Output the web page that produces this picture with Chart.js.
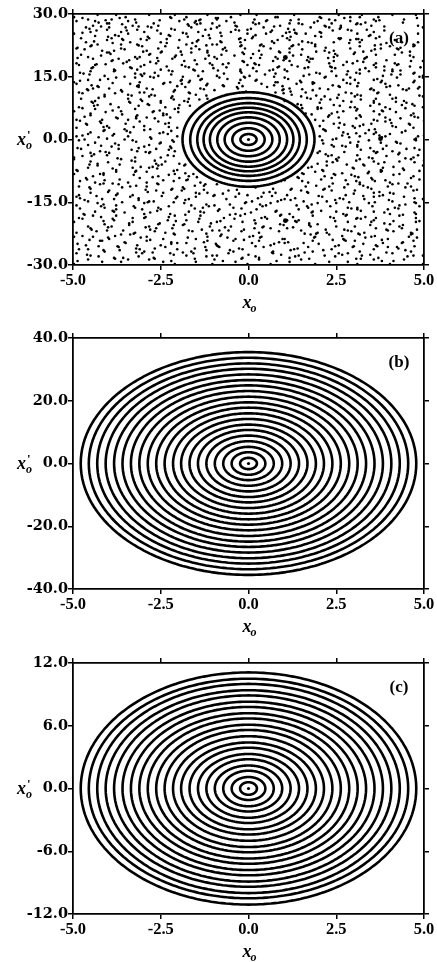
<!DOCTYPE html>
<html>
<head>
<meta charset="utf-8">
<script src="https://cdn.jsdelivr.net/npm/chart.js@4.4.1/dist/chart.umd.min.js"></script>
<style>
  html, body { margin: 0; padding: 0; background: #fff; overflow: hidden; }
  canvas { position: absolute; left: 0; }
</style>
</head>
<body>
<canvas id="panelA" width="437" height="320" style="top:0px"></canvas>
<canvas id="panelB" width="437" height="320" style="top:324px"></canvas>
<canvas id="panelC" width="437" height="320" style="top:649px"></canvas>
<script>
// x axis shared by all three panels
const xTicks = [-5.0, -2.5, 0.0, 2.5, 5.0];

// panel (a): y range and the invariant rings around the centre (semi-axes)
const yTicksA = [-30.0, -15.0, 0.0, 15.0, 30.0];
const ringsAx = [0.23, 0.46, 0.68, 0.89, 1.10, 1.28, 1.46, 1.66, 1.88];
const ringsAy = [1.3, 2.7, 4.0, 5.3, 6.5, 7.6, 8.7, 9.9, 11.3];
// larger island dots
const islandsX = [1.05, 3.76, 1.05];
const islandsY = [19.6, 0.2, -19.4];

// chaotic sea of panel (a), read off the picture on two staggered grids
// (cells 0.2 wide and 1.5 tall, rows running from the top down);
// '.' = empty cell, digit = one dot, its place in the cell as on a keypad
const chaosRows = [
  "4.72.8159. 3..6294.71 8.53.91.64 .27..483.5 6195.2.73.",
  "2.9164.38. .57..18246 93.7..52.8 6.4.396.72 5.81.....7",
  ".38.6192.4 71..5.396. 2.846..17. 95.3.72.14 .69......3",
  "17.4.853.. 9.26..1.58 .4.938.2.6 83.15..97. 2.47.....1",
  ".6.83.9147 2.5..173.9 84.62.9..1 3.758..4.2 61.9.36.84",
  "5.2.796..3 8.41..62.7 .9.35.814. 61..29.7.5 3.86.14.2.",
  ".47.31..98 6.2.853..1 74..1.6.92 3.58..27.. 19.4.63.8.",
  "8.3..527.1 .94.16..38 2.7.49..51 6..31.84.9 52.7.9..46",
  "3.61.9..47 1.8..257.3 .6.93.2.84 71.5..6.2. 9.34.81..5",
  ".52.83..69 4.7.1..92. 85.3.71.6. 2.9..438.1 6.1.72..59",
  "7.46..1.38 .2.9.58.4. 3..62.4.97 1.8.73..52 4.69..1.83",
  "2.95.7..14 8.3.62..71 .5.84.3..6 93..17.6.2 5.8.24.9.7",
  "6.1.8.39.5 47..2.58.. 19......63 .7.41..96. 8.35.7.2..",
  ".4.72..6.9 3.8.195..4 .......... 7.26.3..8. 1.94.5.7.3",
  "9.35..8.1. 6.27.4.... .......... ..5.91.4.8 7.3.8.62.9",
  "4.81..6.3. .59.2..... .......... ...73.9.5. 2.6.41..8.",
  "8.2.7.49.1 5.36...... .......... ....8.26.. 3.9.57..14",
  ".6.39..5.2 7.14...... .......... .....7.4.9 9.5.28.6..",
  "2.8.51..7. 4.9.3..... .......... .....6.38. 1.47..9.2.",
  "5.1.93.6.. .7.26..... .......... .....4.8.1 6.3.51..94",
  "3.74..8.2. 9.5.1..... .......... .....29..5 8.16..4.3.",
  ".4.9.25..7 16.38..... .......... .....7.13. 2.9.48.5..",
  "7.2.61..9. 3.85...... .......... ....3.69.. 5.71..2.84",
  "1.58..3.6. .9.4.7.... .......... ....9.42.. 3.68..5.1.",
  "8.42..7.5. 6.1.93.... .......... ...5.81..6 .2.94..7.3",
  "4.96..1.3. 2.7.5.84.. .......... ..6.29.4.. 7.13..5.8.",
  ".3.75..9.2 8.6..14.7. .......... 4.18..3.6. 9.2.57..1.",
  "6.83..2.4. 5.1.79..3. 2.......8. .7.4.95..1 3.8.62..4.",
  "9.5..17.8. .36..2.5.4 7.1.9..46. 8.25..3.9. 1.6.74..2.",
  "2.7.46..1. 98..3.52.. .6.1.83..7 4.9..27.5. .53..8.1.6",
  "5..28.4.9. 1.7..36.8. 4.9.2..51. .6.83..2.7 8.1..95.3.",
  ".8.4.61..3 7.29..5.4. 3..78.1.6. 9.1.4..58. 2.6.37..9.",
  "6.3..91.5. 4..82.7.1. .5.3.96..2 8.7.1..43. 5.94..2.6.",
  "1.7.58..2. 9.4..6.3.8 2.8.1..7.5 .3.96..8.1 7.2..48.3.",
  "8.2.6..49. .3.71.5..6 6.4..38.1. 2.5.9.7..4 .8.16.3.7.",
  "4.6..73.1. 5.9.2..8.4 .1.7.46..9 7..35.2.8. 3.5.9..61.",
  ".9.31..5.7 2.8.6.4..1 8.3..52.7. 4.6.1..93. 1..74.6.2.",
  "6.4.8.2..5 7..16.9.3. 3.9.4..18. .5.27.6..3 9.6.3.1.7.",
  "2.5..9.7.3 .8.3..41.6 5.1.7.8.2. 9.4..6.3.1 .4.8.2..56",
  "7.1.4.63.. 3.6.8..5.9 1..49.2.7. 6.2.8.5..4 8.3..7.1.9"
];
// second grid, shifted half a cell right and down
const chaosRows2 = [
  "3..74.1.8. .6.2..95.3 1.8..7.4.. 5..93.6.1. .7.4..8.2.",
  ".9.5..2.6. 4..8.3.1.7 ..6.92..4. 7.1..5.8.3 2..6......",
  "6.3..8.1.. .2.7.4..9. 5..1.8.3.6 .4..6.2..1 .9.3......",
  "..8.2.5..4 1.6..3.7.. 8..4.1.9.. 2.7.3..5.6 4..1......",
  "7.4..1..6. ..3.8.2.5. .7.5..4.1. 6..2.8..3. ..5.1.7.4.",
  ".1..9.3..5 8.4.6..2.. 3..9.7..6. ..1.4.9..8 6.2..3.5..",
  "4..2.7.8.. .5..1.9.3. ..2.6.4..8 3.9..6.1.. .4..7..2..",
  "..6.4..1.7 2.9..8.4.. 6..3.5..9. .8.1..7.2. 3..9.6.8..",
  "8.1..5.3.. .7.4..6..2 4..8.1.5.. ..2.7.3..9 .1.6..4.7.",
  ".3..8.6..1 5..2.4.9.. .8.6..3.4. 7..1.5..2. ..9.3.1.6.",
  "2.7..4..9. ..5.3.1.8. 9..4.2..7. .3.6..8.5. 4..2.9..1.",
  ".5.1..8.3. 6..9.2..4. ..3.7..1.5 8.4..6.2.. .6..1.5.3.",
  "3..7.2.6.. .4.8..1.5. .........2 ..9.4..7.1 5.3..8..6.",
  "..4.9..5.1 7..3.6.2.. .......... .8..3.1..4 2..7.5.9..",
  "6.2..7..3. .9..5.1... .......... ..4.6..2.9 .3.8..6.1.",
  ".7..1.5.8. 3.6.2..... .......... ...5.9.1.. 8..4.2..7.",
  "5..8.3..2. .1.7...... .......... .....4.8.3 ..6.9.1..5",
  ".2.6..9.4. 8..4...... .......... .....7..1. 3.8..5.2..",
  "9..3.7.1.. .6.2...... .......... .....2.9.6 .4.7..3..8",
  ".4.1..6.8. 2..9...... .......... ......5.3. 7..2.8..4.",
  "7..5.2..9. .3.8...... .......... .....1.6.. .9..4.1.7.",
  "..8.4..3.6 5..1...... .......... .....8..4. 2.6..9..3.",
  "3.1..6.9.. .7.3...... .......... .....3.7.9 ..4.1.6..8",
  ".6..2.4..7 9.4..5.... .......... ...8..2.5. 6..3.7..1.",
  "4..9.1..5. .2.6.8.... .......... ..7..4.9.2 .8.5..2.6.",
  ".8.3..7.1. 6..1.9.4.. .......... .5..9.3..1 4.7..1..9.",
  "2..6.4..8. .5.3..9.7. .........1 ..1.7.5..3 9.2..6.4..",
  ".3..8.2..6 7..5.1..4. ..6..2.8.. 5.9..4..1. .2.7..3.5.",
  "8.6..3..9. ..4.7..2.5 3..1.9.6.. .7..5..8.2 6..4.1..7.",
  ".1.9..5.3. 4..6.2..8. .9..4.7..1 2..8..3.6. ..5.2.9.4.",
  "5..2.7..1. .8.1..6.3. 7..5..2.8. ..3.9.1..4 8.1..6..3.",
  ".4.8..3..9 2..7.5..1. .6..3.9..4 9..2..7.5. .7.3..5.1.",
  "3..6.1.8.. .9..4..2.7 5.2..8.1.. .4.7..6..3 2..9.4..6.",
  "..7.5..2.6 8..3.1.9.. .4.9..5..2 6..1.8..7. .3..7.2.8.",
  "9.3..8..4. .1.6..2.5. 8..2.7..3. ..5.4..9.1 4.8..1.6..",
  ".6..2.9..1 5..8.3..7. .2.6..1.9. 7..3..5.4. .1.5..8.2.",
  "1..4.6..8. .7.2..9..3 4..7.5..1. .8..2.6..5 3.6..9..4.",
  ".8.3..1.5. 6..9.4..2. .3..8..6.7 2.5..1.9.. .9..4.3...",
  "7..1.5..3. .4.8..6.2. 9..5.2..8. .1.4..3..6 5..8.7.1.."
];

// panel (b)
const yTicksB = [-40.0, -20.0, 0.0, 20.0, 40.0];
const ringsBx = [0.24, 0.48, 0.72, 0.96, 1.20, 1.44, 1.68, 1.92, 2.15, 2.39,
                 2.63, 2.87, 3.11, 3.35, 3.59, 3.83, 4.07, 4.31, 4.55, 4.78];
const ringsBy = [1.8, 3.6, 5.3, 7.1, 8.9, 10.7, 12.4, 14.2, 16.0, 17.8,
                 19.5, 21.3, 23.1, 24.9, 26.6, 28.4, 30.2, 31.9, 33.7, 35.5];

// panel (c)
const yTicksC = [-12.0, -6.0, 0.0, 6.0, 12.0];
const ringsCx = [0.24, 0.48, 0.72, 0.96, 1.20, 1.44, 1.68, 1.92, 2.15, 2.39,
                 2.63, 2.87, 3.11, 3.35, 3.59, 3.83, 4.07, 4.31, 4.55, 4.78];
const ringsCy = [0.6, 1.1, 1.7, 2.2, 2.8, 3.3, 3.9, 4.4, 5.0, 5.6,
                 6.1, 6.7, 7.2, 7.8, 8.3, 8.9, 9.4, 10.0, 10.5, 11.1];

const SERIF = "'Liberation Serif', 'DejaVu Serif', serif";
const WIDE_SERIF = "'DejaVu Serif', serif";

// decode a hand-read grid into dot coordinates
function gridPoints(rows, x0, y0, pts) {
  rows.forEach((row, i) => {
    row.replace(/ /g, "").split("").forEach((c, j) => {
      if (c === ".") return;
      const d = Number(c) - 1;
      pts.push({
        x: x0 + 0.2 * j + ((d % 3) - 1) * 0.07,
        y: y0 - 1.5 * i + (1 - Math.floor(d / 3)) * 0.55
      });
    });
  });
  return pts;
}

function chaosPoints() {
  const pts = [];
  gridPoints(chaosRows, -4.9, 29.25, pts);
  gridPoints(chaosRows2, -4.8, 28.5, pts);
  return pts;
}

// outline of one ring, traced round its two semi-axes
function ringOutline(ax, ay) {
  const pts = [];
  const n = 140;
  for (let k = 0; k <= n; k++) {
    const t = (2 * Math.PI * k) / n;
    pts.push({ x: ax * Math.cos(t), y: ay * Math.sin(t) });
  }
  return pts;
}

function ringDatasets(rx, ry, width) {
  return rx.map((ax, i) => ({
    data: ringOutline(ax, ry[i]),
    showLine: true,
    tension: 0.0001,       // keeps Chart.js off its x-monotone fast path
    borderColor: "#000",
    borderWidth: width,
    borderJoinStyle: "round",
    borderCapStyle: "round",
    pointRadius: 0,
    fill: false
  }));
}

// axis titles and panel letter
const decorations = {
  id: "decorations",
  afterDraw(chart) {
    const ctx = chart.ctx;
    const a = chart.chartArea;
    const letter = chart.options.plugins.decorations.letter;
    ctx.save();
    ctx.fillStyle = "#000";
    ctx.textBaseline = "alphabetic";

    ctx.font = "bold 17px " + SERIF;
    ctx.textAlign = "center";
    ctx.fillText(letter, a.right - 25, a.top + 29);

    // x title
    const cx = (a.left + a.right) / 2;
    ctx.textAlign = "left";
    ctx.font = "italic bold 18px " + SERIF;
    ctx.fillText("x", cx - 6, a.bottom + 43);
    ctx.font = "italic bold 12px " + SERIF;
    ctx.fillText("o", cx + 2, a.bottom + 47);

    // y title
    const cy = (a.top + a.bottom) / 2;
    ctx.font = "italic bold 18px " + SERIF;
    ctx.fillText("x", 17, cy + 5);
    ctx.font = "bold 13px " + SERIF;
    ctx.fillText("'", 27, cy - 1);
    ctx.font = "italic bold 12px " + SERIF;
    ctx.fillText("o", 26, cy + 9);
    ctx.restore();
  }
};

function axisCommon(extra) {
  return Object.assign({
    type: "linear",
    grid: { drawOnChartArea: false, tickLength: 5, color: "#000", lineWidth: 1.5 },
    border: { color: "#000", width: 1.8 }
  }, extra);
}

function makePanel(id, yTicks, datasets, letter) {
  const yMin = yTicks[0], yMax = yTicks[yTicks.length - 1];
  const yStep = yTicks[1] - yTicks[0];
  const xStep = xTicks[1] - xTicks[0];
  new Chart(document.getElementById(id), {
    type: "scatter",
    data: { datasets },
    options: {
      responsive: false,
      animation: false,
      devicePixelRatio: 1,
      layout: { padding: 0 },
      plugins: {
        legend: { display: false },
        tooltip: { enabled: false },
        decorations: { letter }
      },
      scales: {
        x: axisCommon({
          position: "bottom", min: xTicks[0], max: xTicks[xTicks.length - 1],
          ticks: { stepSize: xStep, callback: v => v.toFixed(1),
                   font: { family: SERIF, size: 16.5, weight: "bold" },
                   color: "#000", padding: 1, maxRotation: 0, autoSkip: false },
          afterFit: s => { s.height = 55; s.paddingLeft = 0; s.paddingRight = 0; }
        }),
        x2: axisCommon({
          position: "top", min: xTicks[0], max: xTicks[xTicks.length - 1],
          ticks: { stepSize: xStep, display: false },
          afterFit: s => { s.height = 14; s.paddingLeft = 0; s.paddingRight = 0; }
        }),
        y: axisCommon({
          position: "left", min: yMin, max: yMax,
          ticks: { stepSize: yStep, callback: v => v.toFixed(1),
                   font: { family: WIDE_SERIF, size: 14.5, weight: "bold" },
                   color: "#000", padding: 0, autoSkip: false },
          afterFit: s => { s.width = 73; s.paddingTop = 0; s.paddingBottom = 0; }
        }),
        y2: axisCommon({
          position: "right", min: yMin, max: yMax,
          ticks: { stepSize: yStep, display: false },
          afterFit: s => { s.width = 13; s.paddingTop = 0; s.paddingBottom = 0; }
        })
      }
    },
    plugins: [decorations]
  });
}

const centreDot = {
  data: [{ x: 0, y: 0 }], showLine: false, pointRadius: 1.6,
  pointBackgroundColor: "#000", pointBorderWidth: 0
};

makePanel("panelA", yTicksA, [
  { data: chaosPoints(), showLine: false, pointRadius: 1.3,
    pointBackgroundColor: "#000", pointBorderWidth: 0 },
  { data: islandsX.map((x, i) => ({ x, y: islandsY[i] })), showLine: false,
    pointRadius: 2.4, pointBackgroundColor: "#000", pointBorderWidth: 0 },
  ...ringDatasets(ringsAx, ringsAy, 2.6),
  centreDot
], "(a)");

makePanel("panelB", yTicksB, [...ringDatasets(ringsBx, ringsBy, 2.6), centreDot], "(b)");
makePanel("panelC", yTicksC, [...ringDatasets(ringsCx, ringsCy, 2.6), centreDot], "(c)");
</script>
</body>
</html>
